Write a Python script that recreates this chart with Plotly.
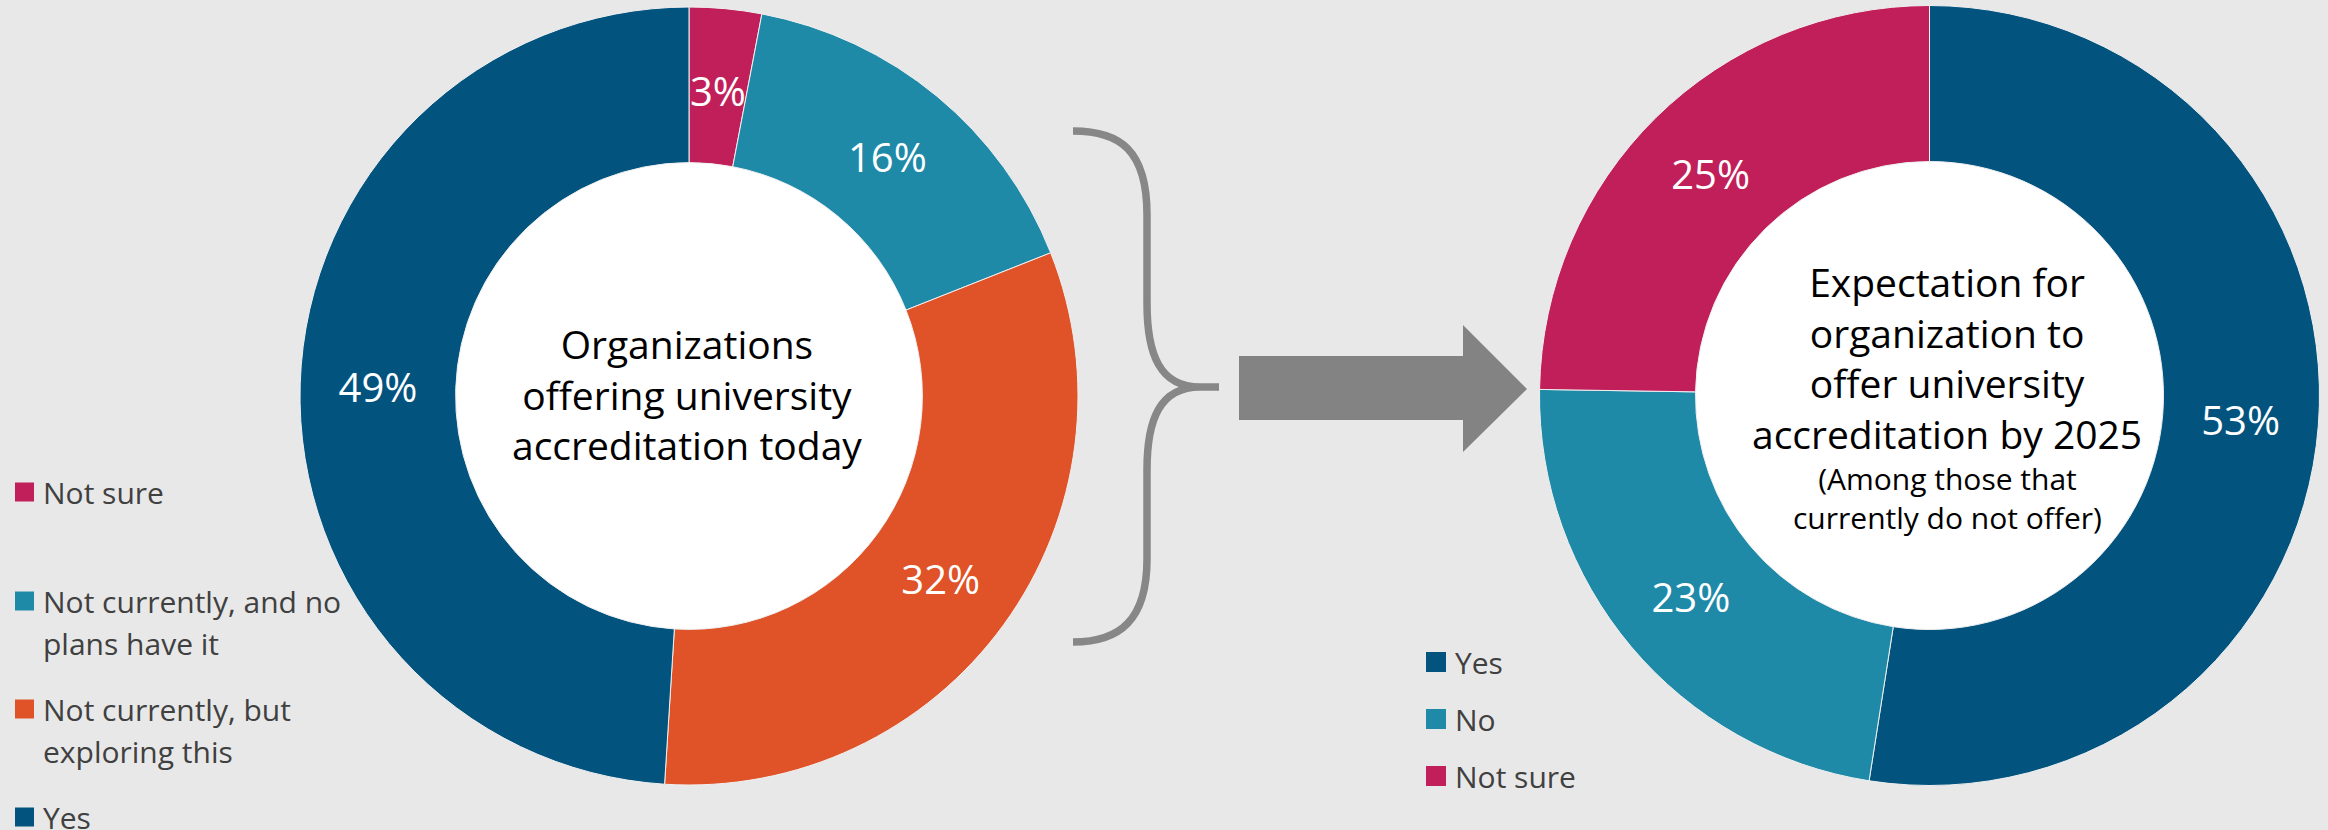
import math
import plotly.graph_objects as go

W, H = 2328, 830
BG = "#E8E8E8"
FONT = "Open Sans"

# ---- data ----
left_labels = ["Not sure", "Not currently, and no plans have it",
               "Not currently, but exploring this", "Yes"]
left_legend_lines = [["Not sure"], ["Not currently, and no", "plans have it"],
                     ["Not currently, but", "exploring this"], ["Yes"]]
left_values = [3, 16, 32, 49]
left_colors = ["#C11F5A", "#1F8AA8", "#E05227", "#02547F"]

right_labels = ["Yes", "No", "Not sure"]
right_values = [53, 23, 25]
right_colors = ["#02547F", "#1F8AA8", "#C11F5A"]

left_title = "Organizations<br>offering university<br>accreditation today"
right_title = "Expectation for<br>organization to<br>offer university<br>accreditation by 2025"
right_subtitle = "(Among those that<br>currently do not offer)"


def px(x):
    return x / W


def py(y):
    return 1 - y / H


# donut geometry (pixels)
L_CX, L_CY, L_R = 689, 396, 389
R_CX, R_CY, R_R = 1929.5, 395.5, 390
HOLE = 0.6
SMALL = 0.05  # slices narrower than this get their label placed by hand

fig = go.Figure()
annotations = []
shapes = []


def donut(labels, values, colors, cx, cy, r):
    total = sum(values)
    templates = []
    cum = 0
    for v in values:
        frac = v / total
        if frac < SMALL:
            templates.append("")
            ang = 2 * math.pi * (cum + frac / 2)
            rr = 0.79 * r
            annotations.append(dict(text=f"{v}%", x=px(cx + rr * math.sin(ang)),
                                    y=py(cy - rr * math.cos(ang)), xref="paper", yref="paper",
                                    xanchor="center", yanchor="middle", showarrow=False,
                                    font=dict(family=FONT, size=40, color="white")))
        else:
            templates.append("%{value}%")
        cum += frac
    shapes.append(dict(type="circle", xref="paper", yref="paper", layer="below",
                       x0=px(cx - HOLE * r), x1=px(cx + HOLE * r),
                       y0=py(cy + HOLE * r), y1=py(cy - HOLE * r),
                       fillcolor="white", line=dict(width=0)))
    return go.Pie(
        labels=labels, values=values, hole=HOLE, sort=False,
        direction="clockwise", rotation=0,
        marker=dict(colors=colors, line=dict(color="#F0F0F0", width=1)),
        texttemplate=templates, textposition="inside",
        insidetextorientation="horizontal",
        textfont=dict(color="white", size=40, family=FONT),
        domain=dict(x=[px(cx - r), px(cx + r)], y=[py(cy + r), py(cy - r)]),
        showlegend=False, hoverinfo="label+value",
    )


fig.add_trace(donut(left_labels, left_values, left_colors, L_CX, L_CY, L_R))
fig.add_trace(donut(right_labels, right_values, right_colors, R_CX, R_CY, R_R))

# centre texts
annotations.append(dict(text=left_title, x=px(687), y=py(394), xref="paper", yref="paper",
                        xanchor="center", yanchor="middle", showarrow=False,
                        font=dict(family=FONT, size=39, color="black"), align="center"))
annotations.append(dict(text=right_title, x=px(1947), y=py(357), xref="paper", yref="paper",
                        xanchor="center", yanchor="middle", showarrow=False,
                        font=dict(family=FONT, size=39, color="black"), align="center"))
annotations.append(dict(text=right_subtitle, x=px(1947), y=py(498), xref="paper", yref="paper",
                        xanchor="center", yanchor="middle", showarrow=False,
                        font=dict(family=FONT, size=30, color="black"), align="center"))

# manual legends
LEG_COLOR = "#404040"


def legend(lines_list, colors, x0, size, text_x, ys, line_gap):
    for lines, col, y in zip(lines_list, colors, ys):
        shapes.append(dict(type="rect", xref="paper", yref="paper",
                           x0=px(x0), x1=px(x0 + size), y0=py(y + size / 2), y1=py(y - size / 2),
                           fillcolor=col, line=dict(width=0)))
        for k, ln in enumerate(lines):
            annotations.append(dict(text=ln, x=px(text_x), y=py(y + k * line_gap), xref="paper",
                                    yref="paper", xanchor="left", yanchor="middle",
                                    showarrow=False,
                                    font=dict(family=FONT, size=30, color=LEG_COLOR)))


legend(left_legend_lines, left_colors, 15, 19, 41, [492, 601, 709, 817], 42)
legend([[t] for t in right_labels], right_colors, 1426, 20, 1453, [662, 719, 776], 42)

# brace
brace = ("M {a},{b} C {c},{b} {d},{e} {d},{f} L {d},{g} C {d},{h} {i},{j} {k},{j} L {l},{j} "
         "M {k},{j} C {i},{j} {d},{m} {d},{n} L {d},{o} C {d},{p} {c},{q} {a},{q}")
path = brace.format(a=px(1073), b=py(131), c=px(1120), d=px(1147), e=py(150), f=py(215),
                    g=py(303), h=py(355), i=px(1160), j=py(387), k=px(1200), l=px(1219),
                    m=py(419), n=py(470), o=py(559), p=py(620), q=py(642))
shapes.append(dict(type="path", path=path, xref="paper", yref="paper",
                   line=dict(color="#878787", width=7.5)))

# arrow
arrow_pts = [(1239, 356), (1463, 356), (1463, 325), (1527, 389), (1463, 452), (1463, 420), (1239, 420)]
apath = "M " + " L ".join(f"{px(x)},{py(y)}" for x, y in arrow_pts) + " Z"
shapes.append(dict(type="path", path=apath, xref="paper", yref="paper",
                   fillcolor="#838383", line=dict(width=0)))

fig.update_layout(
    width=W, height=H, margin=dict(l=0, r=0, t=0, b=0),
    paper_bgcolor=BG, plot_bgcolor=BG,
    annotations=annotations, shapes=shapes,
    uniformtext=dict(minsize=40, mode="show"),
    font=dict(family=FONT),
)

fig.write_html("out.html")
